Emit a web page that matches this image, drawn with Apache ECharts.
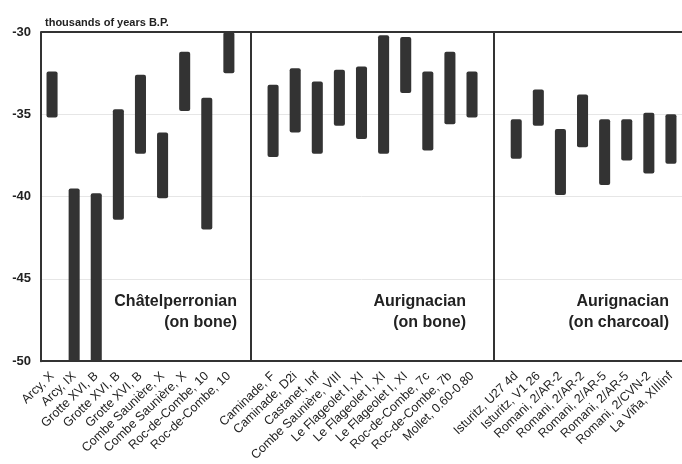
<!DOCTYPE html>
<html>
<head>
<meta charset="utf-8">
<script src="https://cdn.jsdelivr.net/npm/echarts@6/dist/echarts.min.js"></script>
<style>
  html, body { margin: 0; padding: 0; background: #fff; }
  #main { width: 682px; height: 464px; }
</style>
</head>
<body>
<div id="main"></div>
<script>
// sites, with a blank slot where the panels split
var categories = [
  'Arcy, X', 'Arcy, IX', 'Grotte XVI, B', 'Grotte XVI, B', 'Grotte XVI, B',
  'Combe Saunière, X', 'Combe Saunière, X', 'Roc-de-Combe, 10', 'Roc-de-Combe, 10',
  '',
  'Caminade, F', 'Caminade, D2i', 'Castanet, Inf', 'Combe Saunière, VIII',
  'Le Flageolet I, XI', 'Le Flageolet I, XI', 'Le Flageolet I, XI',
  'Roc-de-Combe, 7c', 'Roc-de-Combe, 7b', 'Mollet, 0.60-0.80',
  '',
  'Isturitz, U27 4d', 'Isturitz, V1 26', 'Romani, 2/AR-2', 'Romani, 2/AR-2',
  'Romani, 2/AR-5', 'Romani, 2/AR-5', 'Romani, 2/CVN-2', 'La Viña, XIIIinf'
];

// oldest end of each range (thousands of years B.P., negative)
var lows = [
  -35.2, -50, -50, -41.4, -37.4, -40.1, -34.8, -42.0, -32.5,
  null,
  -37.6, -36.1, -37.4, -35.7, -36.5, -37.4, -33.7, -37.2, -35.6, -35.2,
  null,
  -37.7, -35.7, -39.9, -37.0, -39.3, -37.8, -38.6, -38.0
];

// youngest end of each range
var highs = [
  -32.4, -39.5, -39.8, -34.7, -32.6, -36.1, -31.2, -34.0, -30,
  null,
  -33.2, -32.2, -33.0, -32.3, -32.1, -30.2, -30.3, -32.4, -31.2, -32.4,
  null,
  -35.3, -33.5, -35.9, -33.8, -35.3, -35.3, -34.9, -35.0
];

var groupLabels = [
  ['Châtelperronian', '(on bone)'],
  ['Aurignacian', '(on bone)'],
  ['Aurignacian', '(on charcoal)']
];
var groupRight = [237, 466, 669];

var splits = [9, 20];

var rangeData = [];
for (var i = 0; i < categories.length; i++) {
  if (lows[i] !== null) rangeData.push([i, lows[i], highs[i]]);
}

var chart = echarts.init(document.getElementById('main'));

var graphics = [];
groupLabels.forEach(function (g, k) {
  graphics.push({
    type: 'text',
    x: groupRight[k],
    y: 291,
    style: {
      text: g[0] + '\n' + g[1],
      align: 'right',
      fill: '#222',
      font: 'bold 16px "Liberation Sans", Arial, sans-serif',
      lineHeight: 21
    }
  });
});

var lineStyle = { color: '#333', width: 2, type: 'solid' };

var option = {
  animation: false,
  backgroundColor: '#fff',
  title: {
    text: 'thousands of years B.P.',
    left: 40,
    top: 12,
    textStyle: {
      fontSize: 11,
      fontWeight: 'bold',
      color: '#222',
      fontFamily: '"Liberation Sans", Arial, sans-serif'
    }
  },
  grid: {
    left: 41,
    top: 32,
    width: 644,
    bottom: 102
  },
  xAxis: {
    type: 'category',
    data: categories,
    boundaryGap: true,
    axisLine: { lineStyle: { color: '#333', width: 2 } },
    axisTick: { alignWithLabel: true, length: 5, lineStyle: { color: '#ccc' } },
    axisLabel: {
      rotate: 44,
      interval: 0,
      margin: 13,
      fontSize: 12.5,
      color: '#222',
      fontFamily: '"Liberation Sans", Arial, sans-serif'
    }
  },
  yAxis: {
    type: 'value',
    min: -50,
    max: -30,
    interval: 5,
    axisLine: { show: true, lineStyle: { color: '#333', width: 2 } },
    axisTick: { show: false },
    splitLine: { lineStyle: { color: '#e6e6e6' } },
    axisLabel: {
      margin: 10,
      fontSize: 13,
      fontWeight: 'bold',
      color: '#222',
      fontFamily: '"Liberation Sans", Arial, sans-serif'
    }
  },
  graphic: graphics,
  series: [{
    type: 'custom',
    data: rangeData,
    encode: { x: 0, y: [1, 2] },
    renderItem: function (params, api) {
      var x = api.value(0);
      var lo = api.coord([x, api.value(1)]);
      var hi = api.coord([x, api.value(2)]);
      var w = api.size([1, 0])[0] * 0.5;
      return {
        type: 'rect',
        shape: { x: lo[0] - w / 2, y: hi[1], width: w, height: lo[1] - hi[1], r: 2 },
        style: { fill: '#333' }
      };
    },
    markLine: {
      silent: true,
      symbol: 'none',
      label: { show: false },
      lineStyle: lineStyle,
      data: splits.map(function (s) { return { xAxis: s }; }).concat([{ yAxis: -30 }])
    }
  }]
};

chart.setOption(option);
</script>
</body>
</html>
